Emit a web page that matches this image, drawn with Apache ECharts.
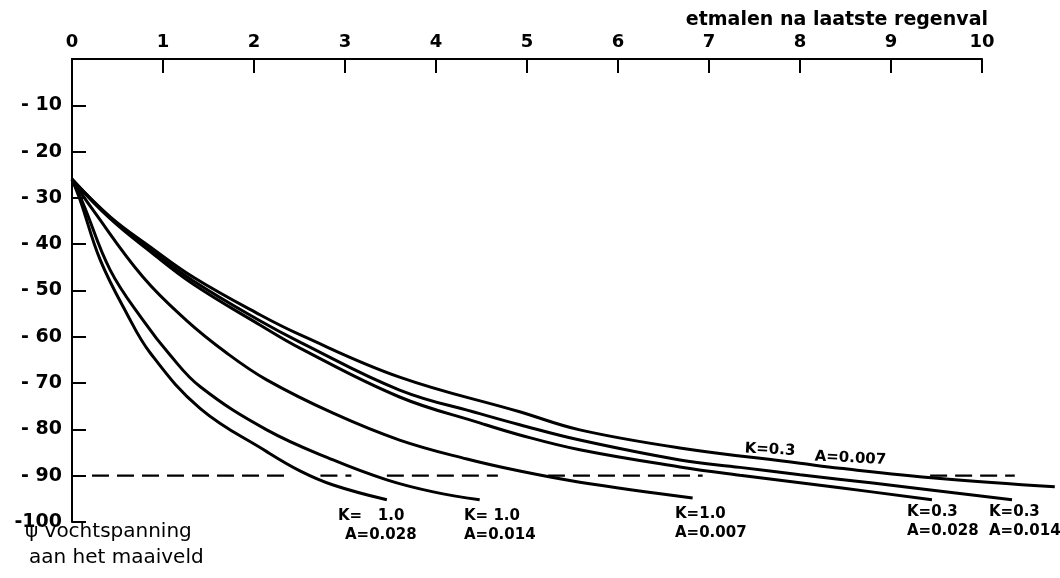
<!DOCTYPE html>
<html><head><meta charset="utf-8">
<script src="https://cdn.jsdelivr.net/npm/echarts@6/dist/echarts.min.js"></script>
<style>html,body{margin:0;padding:0;background:#fff}#c{width:1060px;height:578px}</style>
</head><body><div id="c"></div>
<script>
// x ticks (days after last rainfall)
const xTickValues = [0,1,2,3,4,5,6,7,8,9,10];
const xTickLabels = ['0','1','2','3','4','5','6','7','8','9','10'];
// y ticks (moisture tension)
const yTickValues = [-10,-20,-30,-40,-50,-60,-70,-80,-90,-100];
const yTickLabels = ['- 10','- 20','- 30','- 40','- 50','- 60','- 70','- 80','- 90','-100'];

// curves: [day, psi]
const curveK10A028 = [[0,-26],[0.09,-30.5],[0.31,-43.4],[0.60,-54.9],[0.86,-63.5],[1.41,-75.5],[2.14,-84.8],[2.51,-89.0],[2.87,-92.0],[3.46,-95.2]];
const curveK10A014 = [[0,-26],[0.12,-31.1],[0.42,-45.6],[0.78,-56.4],[1.08,-64.0],[1.41,-70.8],[2.14,-80.1],[2.87,-86.6],[3.46,-90.9],[3.97,-93.5],[4.48,-95.2]];
const curveK10A007 = [[0,-26],[0.23,-32.6],[0.78,-47.1],[1.26,-56.5],[1.70,-63.5],[2.14,-69.3],[2.87,-76.5],[3.60,-82.3],[4.34,-86.4],[4.92,-89.0],[5.58,-91.4],[6.82,-94.8]];
const curveK03A007 = [[0,-26],[0.42,-34.1],[0.86,-40.6],[1.33,-47.1],[2.07,-55.3],[2.51,-59.6],[3.60,-68.7],[4.92,-76.2],[5.58,-80.1],[6.68,-84.0],[8.00,-87.3],[8.44,-88.4],[9.54,-90.6],[10.80,-92.4]];
const curveK03A014 = [[0,-26],[0.42,-34.3],[0.86,-41.2],[1.33,-47.9],[2.07,-56.6],[2.51,-61.2],[3.60,-71.5],[4.48,-76.6],[4.92,-79.0],[5.58,-82.3],[6.68,-86.6],[7.34,-88.2],[8.00,-89.8],[8.80,-91.6],[10.33,-95.2]];
const curveK03A028 = [[0,-26],[0.42,-34.5],[0.86,-41.6],[1.33,-48.6],[2.07,-57.5],[2.51,-62.5],[3.60,-73.0],[4.48,-78.6],[4.92,-81.2],[5.58,-84.4],[6.68,-88.1],[7.34,-89.9],[8.00,-91.5],[8.44,-92.6],[9.45,-95.2]];
// dashed reference level at psi = -90, drawn in pieces
const refLevel = -90;
const refSegments = [[0.22,2.37],[2.73,3.07],[3.46,4.68],[5.23,6.93],[9.43,10.36]];

const curves = [curveK10A028, curveK10A014, curveK10A007, curveK03A007, curveK03A014, curveK03A028];

// layout: plot area 0..10 days over 910 px; a second, wider grid with the same scale
// carries the marks so curves may run past day 10 like in the original
const G_LEFT = 72, G_TOP = 59, G_W = 910, G_H = 463, X_MAX = 10, X_MAX_EXT = 10.85;

const series = curves.map(d => ({
  type: 'line', data: d, showSymbol: false, symbol: 'none', smooth: 0.4,
  xAxisIndex: 1, yAxisIndex: 1,
  clip: false, lineStyle: {color: '#000', width: 3}, silent: true, z: 3
}));
refSegments.forEach(s => series.push({
  type: 'line', data: [[s[0], refLevel], [s[1], refLevel]], symbol: 'none', clip: false, silent: true,
  xAxisIndex: 1, yAxisIndex: 1,
  lineStyle: {color: '#000', width: 2.2, type: [17, 8]}, z: 2
}));

const chart = echarts.init(document.getElementById('c'), null, {renderer: 'canvas'});
const labFont = {fontFamily: 'DejaVu Sans', fontSize: 15, fontWeight: 'bold', fill: '#000'};
const txt = (x, y, t) => ({type: 'text', left: x, top: y, style: Object.assign({text: t}, labFont)});
const hiddenAxis = {show: false, axisLine: {show: false}, axisTick: {show: false}, axisLabel: {show: false}, splitLine: {show: false}};

chart.setOption({
  animation: false,
  backgroundColor: '#fff',
  grid: [
    {left: G_LEFT, top: G_TOP, width: G_W, height: G_H},
    {left: G_LEFT, top: G_TOP, width: G_W * X_MAX_EXT / X_MAX, height: G_H}
  ],
  xAxis: [{
    type: 'value', position: 'top', min: 0, max: X_MAX, interval: 1, gridIndex: 0,
    axisLine: {show: true, onZero: false, lineStyle: {color: '#000', width: 2}},
    axisTick: {show: true, inside: true, length: 14, lineStyle: {color: '#000', width: 2}},
    splitLine: {show: false},
    axisLabel: {margin: 8, color: '#000', fontFamily: 'DejaVu Sans', fontSize: 18, fontWeight: 'bold',
      formatter: v => { const i = xTickValues.indexOf(v); return i >= 0 ? xTickLabels[i] : ''; }}
  }, Object.assign({type: 'value', min: 0, max: X_MAX_EXT, gridIndex: 1}, hiddenAxis)],
  yAxis: [{
    type: 'value', min: -100, max: 0, interval: 10, gridIndex: 0,
    axisLine: {show: true, onZero: false, lineStyle: {color: '#000', width: 2}},
    axisTick: {show: true, inside: true, length: 14, lineStyle: {color: '#000', width: 2}},
    splitLine: {show: false},
    axisLabel: {margin: 10, color: '#000', fontFamily: 'DejaVu Sans', fontSize: 19, fontWeight: 'bold',
      formatter: v => { const i = yTickValues.indexOf(v); return i >= 0 ? yTickLabels[i] : ''; }}
  }, Object.assign({type: 'value', min: -100, max: 0, gridIndex: 1}, hiddenAxis)],
  series: series,
  graphic: [
    {type: 'text', right: 72, top: 11, style: {text: 'etmalen na laatste regenval', fontFamily: 'DejaVu Sans', fontSize: 19, fontWeight: 'bold', fill: '#000'}},
    {type: 'text', left: 25, top: 522, style: {text: 'ψ vochtspanning', fontFamily: 'DejaVu Sans', fontSize: 20, fill: '#000'}},
    {type: 'text', left: 29, top: 548, style: {text: 'aan het maaiveld', fontFamily: 'DejaVu Sans', fontSize: 20, fill: '#000'}},
    txt(338, 509, 'K=   1.0'), txt(345, 528, 'A=0.028'),
    txt(464, 509, 'K= 1.0'), txt(464, 528, 'A=0.014'),
    txt(675, 507, 'K=1.0'), txt(675, 526, 'A=0.007'),
    txt(907, 505, 'K=0.3'), txt(907, 524, 'A=0.028'),
    txt(989, 505, 'K=0.3'), txt(989, 524, 'A=0.014'),
    {type: 'text', x: 745, y: 441, rotation: -0.05, style: Object.assign({text: 'K=0.3'}, labFont)},
    {type: 'text', x: 815, y: 449, rotation: -0.05, style: Object.assign({text: 'A=0.007'}, labFont)}
  ]
});
</script>
</body></html>
